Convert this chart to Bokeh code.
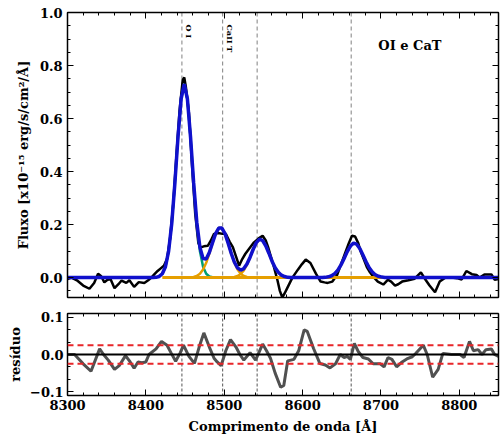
from bokeh.plotting import figure
from bokeh.layouts import column
from bokeh.models import (Range1d, LinearAxis, SingleIntervalTicker, Span, Label, ColumnDataSource,
                          CustomLabelingPolicy, CustomJSTickFormatter)
from bokeh.core.properties import value
from bokeh.embed import file_html
from bokeh.resources import INLINE

# ---------------- data ----------------
obs_wave = [8300, 8305, 8312, 8320, 8328, 8334, 8339, 8343, 8347, 8351, 8355, 8360, 8365, 8369,
            8375, 8379, 8385, 8391, 8398, 8403, 8407, 8411, 8415, 8419, 8423, 8427, 8431, 8435,
            8439, 8443, 8447, 8449, 8451, 8455, 8459, 8463, 8467, 8470, 8474, 8479, 8483, 8487,
            8492, 8498, 8502, 8507, 8511, 8515, 8519, 8523, 8527, 8532, 8538, 8544, 8549, 8553,
            8556, 8560, 8563, 8568, 8571, 8574, 8577, 8581, 8587, 8594, 8599, 8604, 8610, 8617,
            8623, 8628, 8632, 8638, 8644, 8649, 8654, 8659, 8663, 8667, 8671, 8674, 8678, 8682,
            8686, 8690, 8696, 8703, 8709, 8713, 8718, 8722, 8727, 8735, 8743, 8751, 8756, 8762,
            8769, 8775, 8782, 8790, 8797, 8803, 8809, 8816, 8822, 8826, 8832, 8841, 8845, 8850]
obs_flux = [-0.005, 0.0, -0.01, -0.03, -0.042, -0.02, 0.015, 0.005, -0.018, -0.008, -0.006, -0.04, -0.025, -0.011,
            -0.02, -0.01, -0.035, -0.017, -0.02, -0.01, 0.0, 0.013, 0.025, 0.035, 0.045, 0.07, 0.15, 0.28,
            0.46, 0.63, 0.745, 0.755, 0.72, 0.62, 0.42, 0.24, 0.13, 0.114, 0.118, 0.12, 0.14, 0.165,
            0.168, 0.165, 0.165, 0.135, 0.115, 0.08, 0.045, 0.07, 0.09, 0.11, 0.133, 0.148, 0.158, 0.14,
            0.115, 0.075, 0.045, -0.011, -0.05, -0.074, -0.06, -0.036, 0.0, 0.03, 0.05, 0.068, 0.055, 0.015,
            -0.015, -0.018, -0.02, -0.015, 0.01, 0.05, 0.09, 0.13, 0.158, 0.155, 0.13, 0.1, 0.07, 0.04,
            0.02, 0.004, -0.015, -0.026, -0.008, -0.015, -0.03, -0.025, -0.015, -0.01, -0.004, 0.02, -0.004, -0.03,
            -0.055, -0.015, 0.0, 0.0, -0.002, -0.007, 0.025, 0.013, 0.01, 0.0, 0.012, 0.012, -0.008, -0.005]

# total fit (blue), sampled every 4 A between 8401 and 8721, zero outside
fit_wave = [8300] + list(range(8401, 8722, 4)) + [8850]
fit_flux = [0.0,
            0.0, 0.0, 0.0002, 0.0011, 0.0044, 0.0145, 0.041, 0.099, 0.203, 0.355, 0.530, 0.674, 0.730,
            0.674, 0.531, 0.357, 0.209, 0.114, 0.072, 0.070, 0.095, 0.131, 0.166, 0.187, 0.187,
            0.166, 0.130, 0.091, 0.058, 0.037, 0.028, 0.034, 0.051, 0.077, 0.107, 0.132, 0.145,
            0.140, 0.120, 0.092, 0.062, 0.037, 0.020, 0.009, 0.004, 0.001, 0.0005, 0.0001,
            0.0, 0.0, 0.0, 0.0, 0.0, 0.0, 0.0, 0.0, 0.0,
            0.001, 0.003, 0.007, 0.015, 0.028, 0.048, 0.072, 0.098, 0.119, 0.130,
            0.126, 0.110, 0.085, 0.060, 0.037, 0.021, 0.010, 0.005, 0.002, 0.0007,
            0.0, 0.0, 0.0, 0.0,
            0.0]

# individual components
oi_wave = list(range(8421, 8498, 4))
oi_flux = [0.0145, 0.041, 0.099, 0.203, 0.355, 0.530, 0.674, 0.730, 0.674, 0.530,
           0.355, 0.203, 0.099, 0.041, 0.0145, 0.0044, 0.0011, 0.0002, 0.0, 0.0]
cat1_wave = list(range(8449, 8542, 4))
cat1_flux = [0.0, 0.0002, 0.0008, 0.0024, 0.0063, 0.0147, 0.0305, 0.0558, 0.0906, 0.130, 0.166, 0.187,
             0.187, 0.166, 0.130, 0.0906, 0.0558, 0.0305, 0.0147, 0.0063, 0.0024, 0.0008, 0.0002, 0.0]
cat2_wave = list(range(8505, 8590, 4))
cat2_flux = [0.0002, 0.0008, 0.0024, 0.0060, 0.0136, 0.0274, 0.0486, 0.0765, 0.107, 0.132, 0.1445,
             0.140, 0.120, 0.0918, 0.0619, 0.0370, 0.0196, 0.0092, 0.0038, 0.0014, 0.0005, 0.0001]
cat3_wave = list(range(8629, 8706, 4))
cat3_flux = [0.0011, 0.0030, 0.0070, 0.0148, 0.0281, 0.0477, 0.0723, 0.0981, 0.119, 0.1295,
             0.126, 0.110, 0.0854, 0.0595, 0.0371, 0.0207, 0.0103, 0.0046, 0.0018, 0.0007]
cont_wave = [8421, 8701]
cont_flux = [0.0, 0.0]

# residuals
res_wave = [8300, 8309, 8320, 8330, 8341, 8346, 8352, 8360, 8366, 8374, 8380, 8385, 8390, 8395, 8400,
            8404, 8413, 8420, 8427, 8432, 8438, 8444, 8448, 8455, 8462, 8468, 8474, 8481, 8487, 8491,
            8496, 8502, 8508, 8515, 8520, 8525, 8533, 8540, 8549, 8554, 8559, 8565, 8572, 8576, 8581,
            8589, 8595, 8602, 8606, 8614, 8622, 8629, 8635, 8642, 8648, 8653, 8657, 8661, 8666, 8671,
            8677, 8684, 8690, 8699, 8704, 8709, 8714, 8720, 8727, 8733, 8740, 8744, 8754, 8759, 8766,
            8773, 8779, 8790, 8801, 8806, 8813, 8818, 8824, 8829, 8834, 8841, 8845, 8850]
res_flux = [0.0, 0.0, -0.025, -0.045, 0.015, 0.0, -0.015, -0.04, -0.03, -0.003, -0.02, -0.037, -0.02, -0.022, -0.02,
            0.0, 0.015, 0.035, 0.025, 0.005, -0.018, 0.005, 0.025, -0.005, -0.024, 0.02, 0.058, 0.02, -0.01, -0.02,
            -0.03, 0.01, 0.04, 0.02, 0.0, -0.015, 0.005, -0.015, 0.028, 0.01, -0.01, -0.05, -0.088, -0.083, -0.017,
            -0.013, 0.01, 0.066, 0.062, 0.016, -0.024, -0.028, -0.036, -0.025, 0.0, -0.008, -0.005, -0.013, 0.03, 0.008,
            -0.008, -0.012, -0.025, -0.025, -0.033, -0.008, -0.013, -0.033, -0.02, -0.012, -0.006, 0.002, 0.025, 0.0, -0.061,
            -0.04, 0.003, 0.0, 0.0, -0.008, 0.035, 0.01, 0.013, 0.0, 0.013, 0.015, 0.0, -0.005]
res_limit = [0.025, -0.025]

line_waves = [8446, 8498, 8542, 8662]
line_names = ["O I", "CaII T"]
line_name_waves = [8446, 8498]
panel_title = "OI e CaT"

# ---------------- styling ----------------
FONT = "DejaVu Serif"
x_range = Range1d(8300, 8850)

YFMT = "var s = Math.abs(tick) < 1e-9 ? '0.0' : tick.toFixed(1); return s.replace('-', '\u2212');"


def hide_labels(ax):
    ax.major_label_text_font_size = "0px"
    ax.major_label_standoff = 0
    ax.major_label_policy = CustomLabelingPolicy(code="return [];")


def style_axis(ax):
    ax.axis_line_width = 1.5
    ax.axis_line_color = "black"
    ax.major_tick_in = 6
    ax.major_tick_out = 0
    ax.minor_tick_in = 3
    ax.minor_tick_out = 0
    ax.major_tick_line_color = "black"
    ax.minor_tick_line_color = "black"
    ax.major_label_text_font = FONT
    ax.major_label_text_font_style = "bold"
    ax.major_label_text_font_size = "13px"
    ax.major_label_text_color = "black"
    ax.axis_label_text_font = FONT
    ax.axis_label_text_font_style = "bold"
    ax.axis_label_text_font_size = "13px"
    ax.axis_label_text_color = "black"


def setup_axes(p, yint, yminor, show_xlabels):
    xax = p.below[0]
    yax = p.left[0]
    style_axis(xax)
    style_axis(yax)
    xax.ticker = SingleIntervalTicker(interval=100, num_minor_ticks=5)
    yax.ticker = SingleIntervalTicker(interval=yint, num_minor_ticks=yminor)
    yax.formatter = CustomJSTickFormatter(code=YFMT)
    if not show_xlabels:
        hide_labels(xax)
    top = LinearAxis(ticker=SingleIntervalTicker(interval=100, num_minor_ticks=5))
    right = LinearAxis(ticker=SingleIntervalTicker(interval=yint, num_minor_ticks=yminor))
    for ax in (top, right):
        style_axis(ax)
        hide_labels(ax)
    p.add_layout(top, "above")
    p.add_layout(right, "right")
    return xax, yax


W = 500
p1 = figure(width=W, height=305, x_range=x_range, y_range=Range1d(-0.075, 1.0),
            output_backend="svg", toolbar_location=None,
            min_border_left=67, min_border_right=2, min_border_top=12, min_border_bottom=8)
p1.xgrid.visible = False
p1.ygrid.visible = False
p1.outline_line_color = "black"
x1, y1 = setup_axes(p1, 0.2, 4, False)
y1.axis_label = "Fluxo [x10\u207b\u00b9\u2075 erg/s/cm\u00b2/\u00c5]"
y1.axis_label_standoff = 6

for w in line_waves:
    p1.add_layout(Span(location=w, dimension="height", line_color="#808080",
                       line_dash="4 3", line_width=1, level="underlay"))

p1.line(obs_wave, obs_flux, line_color="black", line_width=2.5)
p1.line(oi_wave, oi_flux, line_color="#009E73", line_width=2.5)
p1.line(cat1_wave, cat1_flux, line_color="#E69F00", line_width=2.5)
p1.line(cat2_wave, cat2_flux, line_color="#E69F00", line_width=2.5)
p1.line(cat3_wave, cat3_flux, line_color="#E69F00", line_width=2.5)
p1.line(cont_wave, cont_flux, line_color="#E69F00", line_width=3)
p1.line(fit_wave, fit_flux, line_color="#1010cc", line_width=3.5)

lab_src = ColumnDataSource(dict(x=line_name_waves, y=[0.955] * len(line_name_waves), t=line_names))
p1.text(x="x", y="y", text="t", source=lab_src, angle=-1.5708, x_offset=2,
        text_font=value(FONT), text_font_style="bold", text_font_size="8px",
        text_align="left", text_baseline="bottom", text_color="black")

p1.add_layout(Label(x=8737, y=0.875, text=panel_title, text_font=FONT, text_font_style="bold",
                    text_font_size="13px", text_align="center", text_baseline="middle",
                    text_color="black"))

p2 = figure(width=W, height=137, x_range=x_range, y_range=Range1d(-0.11, 0.11),
            output_backend="svg", toolbar_location=None,
            min_border_left=67, min_border_right=2, min_border_top=8, min_border_bottom=47)
p2.xgrid.visible = False
p2.ygrid.visible = False
p2.outline_line_color = "black"
x2, y2 = setup_axes(p2, 0.1, 3, True)
x2.axis_label = "Comprimento de onda [\u00c5]"
y2.axis_label = "res\u00edduo"
x2.major_label_standoff = 4
x2.axis_label_standoff = 6
y2.major_label_standoff = 4
y2.axis_label_standoff = 4

for w in line_waves:
    p2.add_layout(Span(location=w, dimension="height", line_color="#555555",
                       line_dash="3 2", line_width=1, level="underlay"))

p2.line(res_wave, res_flux, line_color="#505050", line_width=3)
p2.add_layout(Span(location=0, dimension="width", line_color="black", line_width=2))
for r in res_limit:
    p2.add_layout(Span(location=r, dimension="width", line_color="#e8262a",
                       line_dash="6 4", line_width=2))

layout = column(p1, p2)
open("out.html", "w").write(file_html(layout, INLINE))
